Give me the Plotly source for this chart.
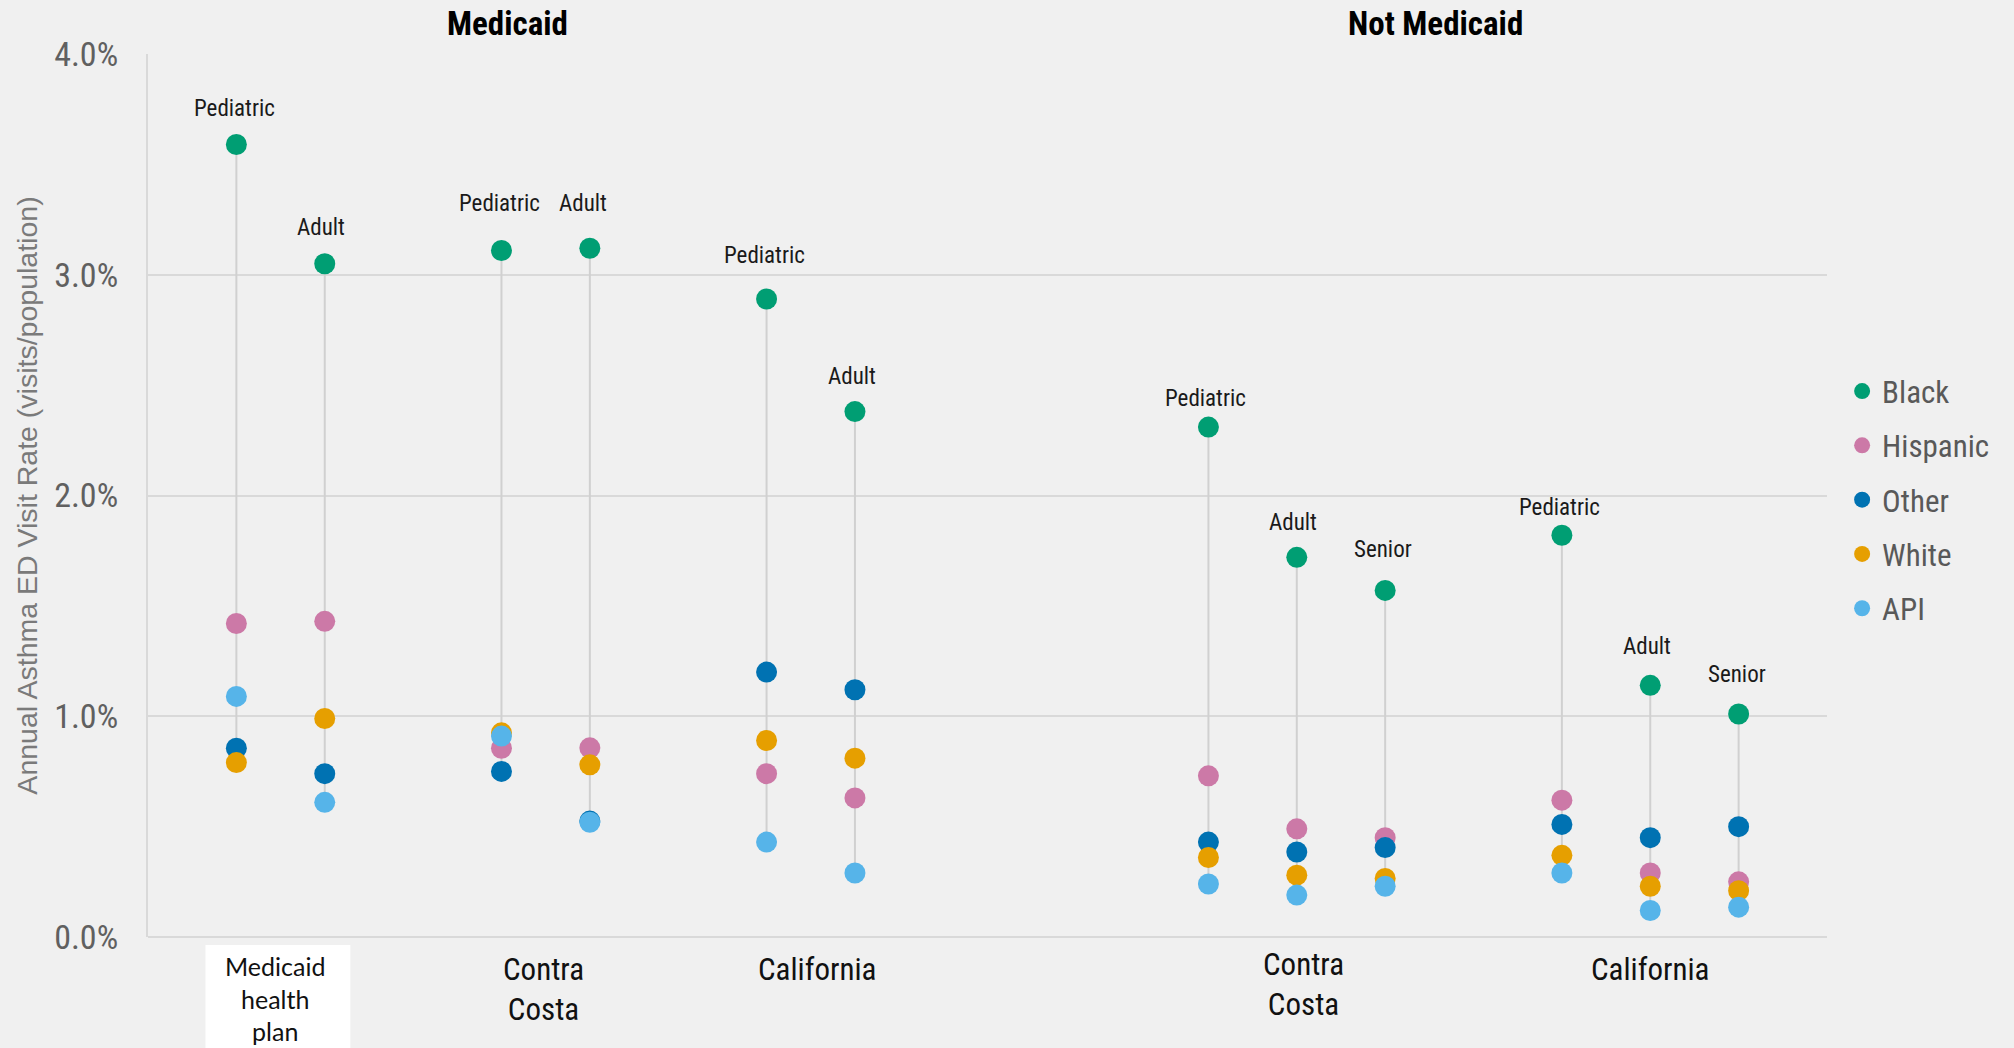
import plotly.graph_objects as go

# ---------------- data ----------------
coverage = ["Medicaid"] * 6 + ["Not Medicaid"] * 6
regions = ["Medicaid health plan", "Medicaid health plan", "Contra Costa", "Contra Costa",
           "California", "California",
           "Contra Costa", "Contra Costa", "Contra Costa",
           "California", "California", "California"]
ages = ["Pediatric", "Adult", "Pediatric", "Adult", "Pediatric", "Adult",
        "Pediatric", "Adult", "Senior", "Pediatric", "Adult", "Senior"]

race_names = ["Black", "Hispanic", "Other", "White", "API"]
black = [3.59, 3.05, 3.11, 3.12, 2.89, 2.38, 2.31, 1.72, 1.57, 1.82, 1.14, 1.01]
hispanic = [1.42, 1.43, 0.855, 0.857, 0.74, 0.63, 0.73, 0.49, 0.45, 0.62, 0.29, 0.25]
other = [0.855, 0.74, 0.75, 0.525, 1.20, 1.12, 0.43, 0.385, 0.405, 0.51, 0.45, 0.50]
white = [0.79, 0.99, 0.925, 0.78, 0.89, 0.81, 0.36, 0.28, 0.265, 0.37, 0.23, 0.21]
api = [1.09, 0.61, 0.91, 0.52, 0.43, 0.29, 0.24, 0.19, 0.23, 0.29, 0.12, 0.135]
series = [black, hispanic, other, white, api]

y_ticks = [0, 1, 2, 3, 4]
y_ticktext = [f"{v:.1f}%" for v in y_ticks]

# ---------------- styles ----------------
colors = ["#009E73", "#CC79A7", "#0072B2", "#E69F00", "#56B4E9"]
NARROW = "Roboto Condensed, Liberation Sans Narrow, Arial Narrow, sans-serif"
REGULAR = "Liberation Sans, Arial, sans-serif"
BG = "#f0f0f0"
GRID = "#d9d9d9"

# x slots: consecutive columns inside a region, one empty slot between regions,
# three empty slots between the coverage groups
xs = []
pos = 0
for i in range(len(ages)):
    if i > 0:
        if coverage[i] != coverage[i - 1]:
            pos += 4
        elif regions[i] != regions[i - 1]:
            pos += 2
        else:
            pos += 1
    xs.append(pos)

fig = go.Figure()

# stems from lowest to highest value of each column
sx, sy = [], []
for i, x in enumerate(xs):
    vals = [s[i] for s in series]
    sx += [x, x, None]
    sy += [min(vals), max(vals), None]
fig.add_trace(go.Scatter(x=sx, y=sy, mode="lines", line=dict(color="#d0d0d0", width=2),
                         showlegend=False, hoverinfo="skip", cliponaxis=False))

for name, vals, col in zip(race_names, series, colors):
    fig.add_trace(go.Scatter(x=xs, y=vals, mode="markers", name=name, legendgroup=name,
                             marker=dict(color=col, size=21, line=dict(width=0)),
                             cliponaxis=False))

annotations = []
# sub-group labels above the Black point
label_shift = [36, 36, 47, 45, 44, 35, 29, 35, 41, 28, 39, 40]
label_xshift = [-2, -4, -2, -7, -2, -3, -3, -4, -2, -2, -3, -2]
for x, yv, a, ys, xsft in zip(xs, black, ages, label_shift, label_xshift):
    annotations.append(dict(x=x, y=yv, xref="x", yref="y", text=a, showarrow=False,
                            yshift=ys, xshift=xsft, yanchor="middle",
                            font=dict(family=NARROW, size=23, color="#1a1a1a")))

# region labels under the axis
region_groups = []
for i, (c, r) in enumerate(zip(coverage, regions)):
    if not region_groups or region_groups[-1][0] != (c, r):
        region_groups.append([(c, r), []])
    region_groups[-1][1].append(xs[i])

region_xshift = {("Medicaid", "Contra Costa"): -2, ("Medicaid", "California"): 6,
                 ("Not Medicaid", "Contra Costa"): 7, ("Not Medicaid", "California"): 0}

shapes = []
for (c, r), cols in region_groups:
    cx = sum(cols) / len(cols)
    words = r.split(" ")
    if r == "Medicaid health plan":
        shapes.append(dict(type="rect", xref="x", yref="paper", x0=cx - 0.85, x1=cx + 0.79,
                           y0=-0.30, y1=-0.009, fillcolor="white", line=dict(width=0),
                           layer="below"))
        annotations.append(dict(x=cx, y=-0.014, xref="x", yref="paper", yanchor="top",
                                text="<br>".join(words), showarrow=False, xshift=-6,
                                font=dict(family="Lato, Open Sans, sans-serif", size=25,
                                          color="#111111")))
    else:
        txt = "<br>".join(words)
        yy = -0.008 if c == "Not Medicaid" and len(words) > 1 else -0.0135
        annotations.append(dict(x=cx, y=yy, xref="x", yref="paper", yanchor="top",
                                text=txt, showarrow=False, xshift=region_xshift[(c, r)],
                                font=dict(family=NARROW, size=31, color="#111111")))

# coverage titles
cov_groups = []
for c, x in zip(coverage, xs):
    if not cov_groups or cov_groups[-1][0] != c:
        cov_groups.append([c, []])
    cov_groups[-1][1].append(x)
for c, cols in cov_groups:
    cx = sum(cols) / len(cols)
    annotations.append(dict(x=cx, y=1.034, xref="x", yref="paper", yanchor="middle",
                            text=f"<b>{c}</b>", showarrow=False, xshift=-38,
                            font=dict(family=NARROW, size=33, color="#000000")))

fig.update_layout(
    width=2014, height=1048,
    paper_bgcolor=BG, plot_bgcolor=BG,
    margin=dict(l=148, r=187, t=54, b=111),
    showlegend=True,
    legend=dict(x=1.009, xanchor="left", y=0.495, yanchor="middle",
                font=dict(family=NARROW, size=31, color="#595959"),
                tracegroupgap=11, bgcolor="rgba(0,0,0,0)"),
    annotations=annotations,
    shapes=shapes,
)
fig.update_xaxes(range=[-1, max(xs) + 1], showgrid=False, zeroline=False, showline=False,
                 showticklabels=False, ticks="")
fig.update_yaxes(range=[0, 4], tickvals=y_ticks, ticktext=y_ticktext,
                 showgrid=True, gridcolor=GRID, gridwidth=2,
                 zeroline=True, zerolinecolor=GRID, zerolinewidth=2,
                 showline=True, linecolor=GRID, linewidth=2,
                 ticks="", ticklabelstandoff=21,
                 tickfont=dict(family=NARROW, size=34, color="#606060"),
                 title=dict(text="Annual Asthma ED Visit Rate (visits/population)",
                            font=dict(family=REGULAR, size=28.5, color="#7a7a7a"),
                            standoff=8))

fig.write_html("out.html", config={"displayModeBar": False},
               post_script="document.body.style.margin='0px';")
